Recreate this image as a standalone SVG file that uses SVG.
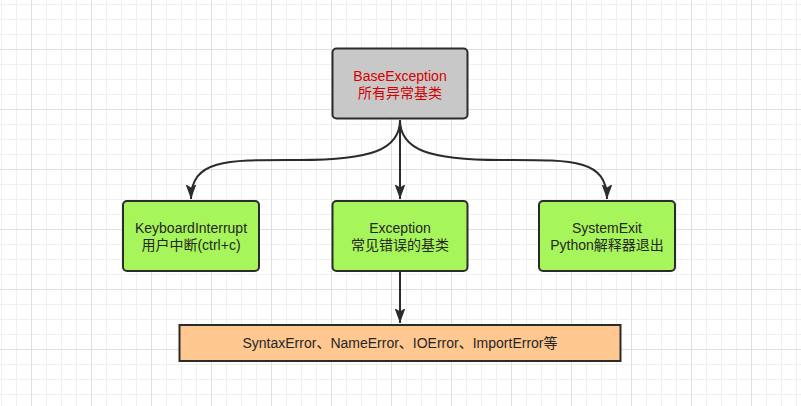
<svg xmlns="http://www.w3.org/2000/svg" width="801" height="406" viewBox="0 0 801 406">
<defs>
<pattern id="minor" x="1" y="4" width="15" height="15" patternUnits="userSpaceOnUse">
<path d="M0,0.5 H15 M0.5,0 V15" fill="none" stroke="#efefef" stroke-width="1"/>
</pattern>
<pattern id="major" x="31" y="49" width="60" height="60" patternUnits="userSpaceOnUse">
<path d="M0,0.5 H60 M0.5,0 V60" fill="none" stroke="#e0e0e0" stroke-width="1"/>
</pattern>
<marker id="arr" markerUnits="userSpaceOnUse" markerWidth="15" markerHeight="13" viewBox="-14.5 -6.5 15 13" refX="0" refY="0" orient="auto">
<path d="M0,0 L-15,-5.5 L-11.5,0 L-15,5.5 Z" fill="#2b2b2b"/>
</marker>
<style>
.box{stroke:#2b2b2b;stroke-width:2}
.t{font-family:"Liberation Sans","Noto Sans CJK SC",sans-serif;font-size:14px;fill:#262626;text-anchor:middle}
.red{fill:#d40000}
.edge{fill:none;stroke:#2b2b2b;stroke-width:2}
</style>
</defs>
<rect width="801" height="406" fill="#ffffff"/>
<rect width="801" height="406" fill="url(#minor)"/>
<rect width="801" height="406" fill="url(#major)"/>
<g id="connectors">
<path class="edge" d="M400,120 C400,150 370,160 300,160 C230,160 191,158 191,199" marker-end="url(#arr)"/>
<path class="edge" d="M400,120 C400,150 430,160 500,160 C570,160 607,158 607,199" marker-end="url(#arr)"/>
<path class="edge" d="M400,120 V199" marker-end="url(#arr)"/>
<path class="edge" d="M400,271 V323" marker-end="url(#arr)"/>
</g>
<g id="base">
<rect class="box" x="332.5" y="48.5" width="135" height="70" rx="4" fill="#c8c8c8"/>
<text class="t red" x="400" y="81">BaseException</text>
<text class="t red" x="400" y="98">所有异常基类</text>
</g>
<g id="keyboard">
<rect class="box" x="123" y="201" width="136" height="70" rx="4" fill="#a6f55a"/>
<text class="t" x="191" y="233">KeyboardInterrupt</text>
<text class="t" x="191" y="250">用户中断(ctrl+c)</text>
</g>
<g id="exception">
<rect class="box" x="332.5" y="201" width="135" height="70" rx="4" fill="#a6f55a"/>
<text class="t" x="400" y="233">Exception</text>
<text class="t" x="400" y="250">常见错误的基类</text>
</g>
<g id="systemexit">
<rect class="box" x="539" y="201" width="136" height="70" rx="4" fill="#a6f55a"/>
<text class="t" x="607" y="233">SystemExit</text>
<text class="t" x="607" y="250">Python解释器退出</text>
</g>
<g id="errors">
<rect class="box" x="179.5" y="325" width="441" height="36" fill="#ffc891"/>
<text class="t" x="400" y="348">SyntaxError、NameError、IOError、ImportError等</text>
</g>
</svg>
